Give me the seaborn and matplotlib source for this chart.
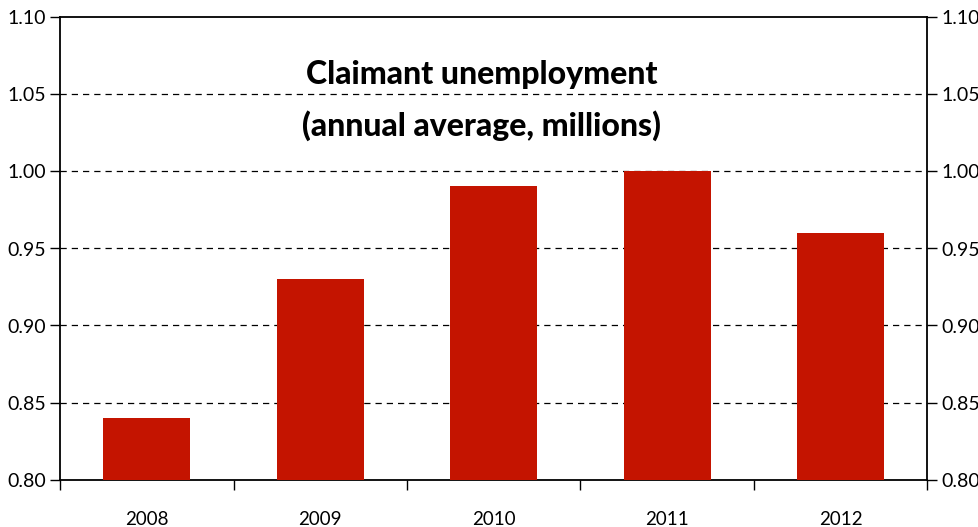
import matplotlib
matplotlib.use("Agg")
import matplotlib.pyplot as plt
import seaborn as sns
import pandas as pd

years = ["2008", "2009", "2010", "2011", "2012"]
values = [0.84, 0.93, 0.99, 1.00, 0.96]
yticks = [0.80, 0.85, 0.90, 0.95, 1.00, 1.05, 1.10]
title_lines = ["Claimant unemployment", "(annual average, millions)"]

sns.set_style("white")
plt.rcParams['font.family'] = ['Lato', 'DejaVu Sans']
plt.rcParams['text.color'] = 'black'
plt.rcParams['xtick.color'] = 'black'
plt.rcParams['ytick.color'] = 'black'

df = pd.DataFrame({"year": years, "value": values})

fig = plt.figure(figsize=(9.785, 5.275), dpi=100)
ax = fig.add_axes([60/978, 1 - 480/527, 867/978, 463/527])

sns.barplot(data=df, x="year", y="value", color="#C41400", width=0.5,
            saturation=1, ax=ax, zorder=3)
for p in ax.patches:
    p.set_edgecolor("none")

ax.set_ylim(0.80, 1.10)
ax.set_xlim(-0.5, len(years) - 0.5)
ax.set_yticks(yticks)
ax.set_yticklabels([f"{t:.2f}" for t in yticks])
ax.set_xlabel("")
ax.set_ylabel("")

for t in yticks[1:-1]:
    ax.axhline(t, color="black", lw=0.9, ls=(0, (5, 4)), zorder=1)

for s in ax.spines.values():
    s.set_visible(True)
    s.set_color("black")
    s.set_linewidth(1.3)

ax.set_xticks(range(len(years)))
ax.set_xticklabels(years)
ax.tick_params(axis="x", length=0, pad=22, labelsize=13.5, labelcolor="black")
ax.set_xticks([i - 0.5 for i in range(len(years) + 1)], minor=True)
ax.tick_params(axis="x", which="minor", length=7, width=1, color="black", direction="out", bottom=True)
ax.tick_params(axis="y", length=7, width=1, color="black", direction="out", left=True,
               labelsize=14, pad=3, labelcolor="black")

ax2 = ax.twinx()
ax2.set_ylim(ax.get_ylim())
ax2.set_yticks(yticks)
ax2.set_yticklabels([f"{t:.2f}" for t in yticks])
ax2.tick_params(axis="y", length=7, width=1, color="black", direction="out", right=True,
                labelsize=14, pad=3, labelcolor="black")
for s in ax2.spines.values():
    s.set_visible(False)

ax.text(0.486, 0.875, title_lines[0], transform=ax.transAxes, ha="center", va="center",
        fontsize=23, fontweight="black", color="black")
ax.text(0.486, 0.765, title_lines[1], transform=ax.transAxes, ha="center", va="center",
        fontsize=23, fontweight="black", color="black")

fig.savefig("out.png", dpi=100)
